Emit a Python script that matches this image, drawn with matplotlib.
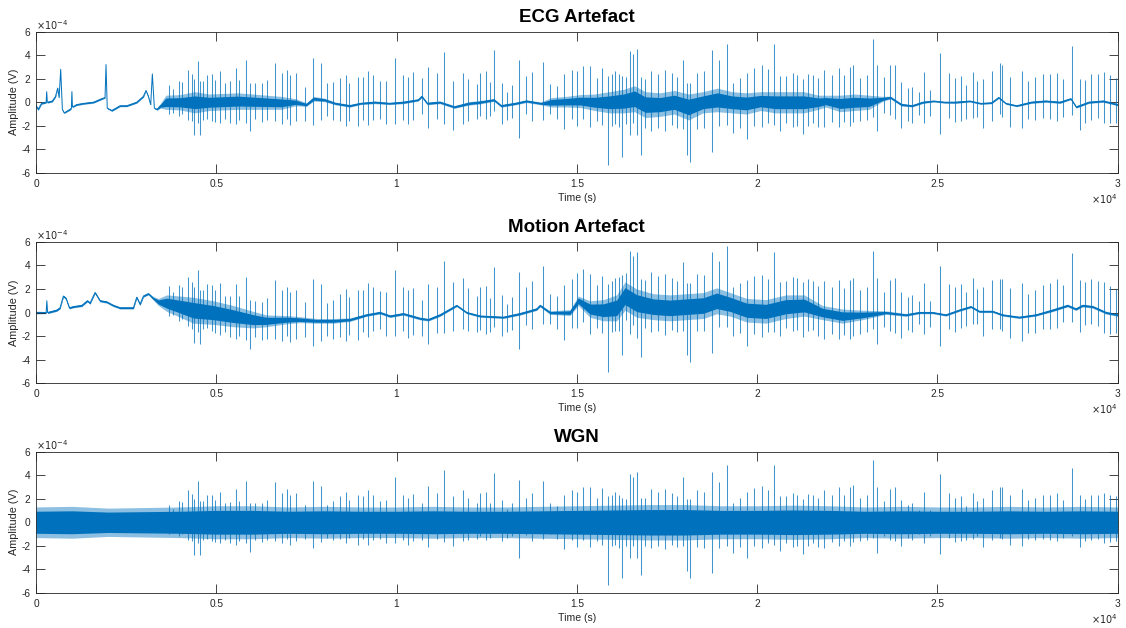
import numpy as np
import matplotlib.pyplot as plt

# values in units of 1e-4 V, time in samples
LINE = '#0072BD'
AXC = '#262626'

# shared EEG spikes (sample, peak above trend, trough below trend)
spike_t = [3697, 3808, 3975, 4040, 4206, 4317, 4390, 4502, 4548, 4640, 4733, 4872, 4964, 5102,
           5241, 5380, 5546, 5638, 5823, 5934, 6073, 6258, 6397, 6627, 6813, 6951, 7043, 7210,
           7459, 7672, 7903, 8060, 8245, 8430, 8596, 8680, 8938, 9077, 9216, 9354, 9539, 9697,
           9955, 10186, 10325, 10463, 10695, 10879, 11111, 11323, 11572, 11831, 11988,
           12220, 12312, 12469, 12589, 12700, 12931, 13050, 13190, 13393, 13602, 13743, 14050,
           14250, 14450, 14641, 14853, 14993, 15177, 15362, 15547, 15704, 15852, 15963, 16055,
           16166, 16259, 16360, 16472, 16564, 16657, 16767, 16880, 17044, 17238, 17442, 17626,
           17790, 17953, 18045, 18138, 18322, 18525, 18738, 18941, 19154, 19330, 19524, 19727,
           19912, 20144, 20292, 20476, 20633, 20800,
           20983, 21094, 21279, 21417, 21556, 21700, 21852, 22090, 22275, 22420, 22572, 22664,
           22850, 23048, 23216, 23338, 23530, 23681, 23819, 24000, 24190, 24300, 24480, 24624,
           24800, 25068, 25327, 25484, 25660, 25800, 25974, 26100, 26270, 26501, 26732, 26800,
           27010, 27333, 27520, 27704, 27935, 28120, 28305, 28470, 28736, 28949, 29090, 29272,
           29457, 29630, 29800, 29949]
spike_hi = [1.5, 1.1, 1.8, 1.7, 2.7, 2.4, 2.0, 3.5, 1.8, 1.8, 2.35, 2.35, 1.9, 2.6,
            1.6, 1.7, 2.8, 1.8, 3.5, 1.6, 1.6, 1.6, 1.9, 3.4, 2.5, 2.8, 2.35, 2.5,
            1.5, 3.5, 3.1, 1.5, 1.8, 2.2, 2.6, 1.9, 2.3, 2.2, 2.7, 2.3, 1.8, 1.9,
            3.85, 2.3, 2.1, 2.4, 1.6, 3.05, 2.5, 4.4, 2.2, 2.7, 2.1,
            1.6, 2.5, 2.6, 1.6, 4.2, 1.9, 1.1, 1.6, 3.6, 2.1, 2.5, 3.5,
            1.6, 1.4, 2.35, 2.7, 2.6, 3.0, 3.0, 2.1, 2.9, 2.2, 2.35, 2.6,
            2.35, 2.1, 2.0, 4.1, 3.8, 4.3, 2.1, 2.1, 2.85, 2.6, 2.85, 2.5,
            2.2, 3.8, 2.0, 2.0, 2.7, 2.6, 4.3, 3.4, 4.9, 1.6, 2.1, 2.6,
            2.9, 3.1, 2.75, 4.9, 2.2, 2.2,
            2.5, 2.35, 2.0, 2.4, 2.35, 2.1, 2.7, 2.35, 3.0, 2.35, 3.0, 3.2,
            2.1, 2.35, 5.3, 3.0, 1.8, 2.8, 3.0, 1.9, 1.5, 1.6, 1.0, 2.55,
            1.0, 4.1, 2.5, 2.1, 2.2, 1.4, 2.5, 1.8, 2.1, 2.7, 3.0, 3.0,
            2.35, 2.85, 1.9, 2.1, 2.35, 2.35, 2.5, 1.9, 4.6, 2.3, 2.0, 2.35,
            2.35, 2.5, 2.35, 2.2]
spike_lo = [-1.0, -0.9, -1.2, -1.0, -1.5, -1.6, -2.75, -1.8, -2.8, -1.5, -1.4, -1.6, -1.7, -1.8,
            -1.5, -1.8, -1.9, -1.6, -1.8, -2.5, -1.5, -1.7, -1.5, -1.6, -1.8, -1.4, -1.9, -1.6,
            -1.4, -2.2, -1.7, -1.3, -1.5, -1.4, -1.8, -1.3, -1.9, -1.4, -1.9, -1.5, -1.4, -1.8,
            -1.8, -1.5, -1.9, -1.6, -1.5, -2.1, -1.4, -1.7, -2.0, -1.6, -1.5,
            -1.4, -1.2, -1.5, -1.3, -0.9, -1.6, -1.3, -1.2, -3.0, -1.1, -1.6, -1.4,
            -1.0, -1.4, -2.3, -1.5, -2.1, -1.5, -2.1, -1.6, -1.9, -5.3, -2.0, -1.9,
            -2.2, -4.7, -2.0, -3.0, -2.0, -3.0, -4.5, -2.0, -2.2, -2.0, -2.3, -1.9,
            -2.1, -2.0, -4.1, -4.7, -2.1, -2.2, -4.3, -2.2, -2.0, -2.6, -2.1, -3.0,
            -2.0, -2.2, -1.8, -1.9, -2.4, -1.8,
            -2.1, -2.0, -2.7, -2.0, -1.8, -2.1, -2.2, -1.7, -2.0, -1.6, -2.0, -1.7,
            -1.6, -1.5, -1.3, -2.6, -1.2, -1.5, -1.6, -2.0, -1.3, -1.5, -1.0, -1.8,
            -1.2, -2.7, -1.3, -1.7, -1.6, -1.5, -1.4, -1.2, -2.1, -1.5, -1.3, -1.4,
            -1.9, -2.0, -1.4, -1.5, -1.4, -1.5, -1.6, -1.3, -1.2, -2.1, -1.6, -1.5,
            -1.4, -1.8, -1.7, -1.6]

# ECG artefact panel: trend and noise half-width
ecg_t = [0, 60, 150, 280, 296, 312, 450, 540, 600, 640, 684, 730, 780, 943, 980, 995, 1010,
         1128, 1313, 1590, 1821, 1914, 1941, 1975, 2100, 2330, 2515, 2792, 2977, 3050, 3115,
         3180, 3226, 3282, 3356, 3450, 3600, 4000, 4400, 4800, 5200, 5600, 6000, 6400, 6800,
         7200, 7500, 7700, 8000, 8300, 8700, 9000, 9400, 9800, 10200, 10600, 10700, 10850,
         11200, 11600, 12000, 12300, 12700, 12900, 13300, 13600, 14000, 14300, 14700, 15100,
         15500, 15900, 16300, 16600, 16900, 17300, 17700, 18100, 18500, 18900, 19300, 19700,
         20100, 20500, 20900, 21300, 21700, 21900, 22300, 22700, 23100, 23500, 23700, 24000,
         24300, 24600, 24900, 25200, 25500, 25900, 26200, 26500, 26700, 26900, 27200, 27600,
         28000, 28400, 28700, 28850, 29200, 29600, 30000]
ecg_v = [-0.3, -0.6, -0.1, 0.0, 0.9, 0.0, 0.1, 0.5, 1.2, 0.4, 2.8, -0.6, -0.9, -0.6, -0.5, 0.9, -0.4,
         -0.2, -0.1, 0.0, 0.3, 0.4, 3.2, -0.5, -0.7, -0.3, -0.3, 0.0, 0.5, 1.0, 0.5,
         -0.2, 2.4, -0.5, -0.6, -0.3, 0.0, 0.0, 0.0, 0.0, 0.05, 0.1, 0.05, 0.0, -0.05,
         0.0, -0.2, 0.3, 0.2, -0.1, -0.3, -0.1, 0.0, -0.1, 0.0, 0.2, 0.5, -0.1,
         0.0, -0.4, -0.1, 0.0, 0.2, -0.3, -0.1, 0.1, -0.1, 0.0, 0.05, 0.1,
         0.0, 0.0, 0.1, 0.3, -0.2, -0.2, 0.0, -0.4, 0.0, 0.2, 0.0, -0.1,
         0.1, 0.0, 0.0, 0.0, 0.0, 0.1, -0.1, 0.0, 0.0, 0.3, 0.4, -0.2,
         -0.3, 0.0, 0.1, 0.0, 0.0, 0.1, -0.1, -0.05, 0.4, -0.1, -0.3, 0.0,
         0.1, 0.0, 0.3, -0.4, 0.0, 0.1, -0.2]
ecg_hw = [0.1, 0.1, 0.08, 0.08, 0.0, 0.08, 0.08, 0.08, 0.05, 0.05, 0.0, 0.05, 0.05, 0.08, 0.05, 0.0, 0.05,
          0.08, 0.08, 0.08, 0.08, 0.05, 0.0, 0.05, 0.08, 0.08, 0.08, 0.08, 0.08, 0.05, 0.05,
          0.05, 0.0, 0.05, 0.08, 0.2, 0.6, 0.65, 0.9, 0.7, 0.7, 0.7, 0.65, 0.6, 0.55,
          0.3, 0.15, 0.2, 0.15, 0.12, 0.12, 0.1, 0.12, 0.1, 0.12, 0.1, 0.1, 0.12,
          0.12, 0.12, 0.15, 0.15, 0.12, 0.12, 0.12, 0.12, 0.12, 0.4, 0.45, 0.55,
          0.7, 0.9, 1.0, 1.1, 1.1, 1.0, 1.0, 1.1, 0.9, 1.0, 0.9, 0.9,
          0.8, 0.9, 0.9, 0.9, 0.6, 0.5, 0.7, 0.7, 0.6, 0.2, 0.12, 0.12,
          0.1, 0.1, 0.08, 0.08, 0.1, 0.08, 0.08, 0.08, 0.08, 0.08, 0.08, 0.1,
          0.1, 0.1, 0.08, 0.1, 0.1, 0.1, 0.1]

# motion artefact panel
mot_t = [0, 203, 280, 300, 320, 573, 665, 758, 832, 924, 1036, 1267, 1424, 1498, 1636, 1775,
         1960, 2145, 2330, 2515, 2700, 2792, 2885, 2977, 3115, 3254, 3393, 3624, 4000, 4360,
         4915, 5470, 6025, 6397, 6952, 7320, 7783, 8245, 8707, 9170, 9540, 9817, 10187, 10650,
         10881, 11205, 11667, 11944, 12314, 12961, 13423, 13885, 13978, 14255, 14810, 15041,
         15365, 15735, 16104, 16336, 16660, 17122, 17584, 18047, 18509, 18879, 19249, 19711,
         20243, 20798, 21307, 21815, 22369, 22924, 23571, 24126, 24496, 24866, 25236, 25605,
         25929, 26160, 26530, 26807, 27269, 27732, 28194, 28610, 28841, 29026, 29303, 29673, 30000]
mot_v = [0.0, 0.0, 0.0, 1.0, 0.0, 0.2, 0.4, 1.4, 1.2, 0.4, 0.5, 0.6, 1.0, 0.8, 1.7, 1.0,
         0.9, 0.6, 0.4, 0.4, 0.4, 1.3, 0.7, 1.4, 1.6, 1.2, 0.9, 0.8, 0.5, 0.2,
         0.0, -0.3, -0.6, -0.7, -0.6, -0.6, -0.7, -0.7, -0.6, -0.2, 0.0, -0.3, -0.1, -0.5,
         -0.6, -0.2, 0.6, 0.0, -0.3, -0.4, -0.1, 0.3, 0.6, 0.0, 0.0, 1.0,
         0.3, 0.2, 0.4, 1.4, 0.8, 0.5, 0.4, 0.5, 0.6, 1.0, 0.7, 0.2,
         0.1, 0.5, 0.6, 0.0, -0.3, -0.2, 0.0, -0.2, 0.0, 0.0, -0.2, 0.2,
         0.5, 0.1, 0.1, -0.2, -0.4, -0.2, 0.2, 0.6, 0.3, 0.6, 0.5, 0.0, -0.2]
mot_hw = [0.12, 0.1, 0.1, 0.0, 0.1, 0.1, 0.1, 0.1, 0.1, 0.1, 0.1, 0.1, 0.1, 0.1, 0.1, 0.1,
          0.1, 0.1, 0.1, 0.1, 0.1, 0.1, 0.1, 0.1, 0.1, 0.15, 0.3, 0.7, 0.9, 1.1,
          1.0, 0.9, 0.7, 0.5, 0.35, 0.25, 0.2, 0.2, 0.15, 0.12, 0.12, 0.12, 0.12, 0.12,
          0.12, 0.12, 0.1, 0.1, 0.1, 0.1, 0.12, 0.12, 0.12, 0.15, 0.25, 0.4,
          0.7, 0.9, 1.1, 1.2, 1.2, 1.1, 1.1, 1.1, 1.1, 1.1, 1.0, 1.0,
          1.0, 1.0, 0.9, 0.6, 0.6, 0.4, 0.15, 0.12, 0.1, 0.1, 0.1, 0.1,
          0.1, 0.1, 0.1, 0.1, 0.1, 0.1, 0.12, 0.12, 0.12, 0.12, 0.12, 0.12, 0.12]

# white gaussian noise panel
wgn_t = [0, 1000, 2000, 3000, 4000, 5000, 6000, 7000, 8000, 9000, 10000, 11000, 12000, 13000,
         14000, 15000, 16000, 17000, 18000, 19000, 20000, 21000, 22000, 23000, 24000, 25000,
         26000, 27000, 28000, 29000, 30000]
wgn_v = [0.0] * 31
wgn_hw = [1.3, 1.35, 1.2, 1.25, 1.3, 1.4, 1.4, 1.3, 1.35, 1.3, 1.3, 1.35, 1.3, 1.3,
          1.35, 1.4, 1.45, 1.5, 1.5, 1.4, 1.4, 1.45, 1.4, 1.3, 1.35, 1.3,
          1.3, 1.35, 1.3, 1.35, 1.3]

titles = ['ECG Artefact', 'Motion Artefact', 'WGN']
panels = [(ecg_t, ecg_v, ecg_hw), (mot_t, mot_v, mot_hw), (wgn_t, wgn_v, wgn_hw)]
core = [0.6, 0.6, 0.72]
xtick_labels = ['0', '0.5', '1', '1.5', '2', '2.5', '3']
ytick_labels = ['-6', '-4', '-2', '0', '2', '4', '6']

plt.rcParams['font.family'] = ['Liberation Sans', 'DejaVu Sans']
fig = plt.figure(figsize=(11.26, 6.28), dpi=100)
bottoms = [0.7245, 0.3896, 0.0557]
height = 0.2253

for i in range(3):
    ax = fig.add_axes([0.032, bottoms[i], 0.9606, height])
    t, v, hw = [np.array(a, dtype=float) for a in panels[i]]
    sc = 1e-4
    ax.fill_between(t, (v - hw) * sc, (v + hw) * sc, color=LINE, alpha=0.45, lw=0)
    ax.fill_between(t, (v - core[i] * hw) * sc, (v + core[i] * hw) * sc, color=LINE, lw=0)
    ax.plot(t, v * sc, color=LINE, lw=0.7)
    st = np.array(spike_t, dtype=float)
    base = np.interp(st, t, v)
    ax.vlines(st, (base + np.array(spike_lo)) * sc, (base + np.array(spike_hi)) * sc,
              color=LINE, lw=0.75, alpha=0.75)

    ax.set_xlim(0, 30000)
    ax.set_ylim(-6e-4, 6e-4)
    ax.set_xticks(np.arange(0, 30001, 5000))
    ax.set_xticklabels(xtick_labels)
    ax.set_yticks(np.arange(-6, 7, 2) * 1e-4)
    ax.set_yticklabels(ytick_labels)
    ax.tick_params(direction='in', length=6.5, width=0.6, color=AXC, labelcolor=AXC,
                   labelsize=7.3, top=True, right=True, pad=4)
    for s in ax.spines.values():
        s.set_color(AXC)
        s.set_linewidth(0.6)
    ax.set_title(titles[i], fontsize=13.5, fontweight='bold', pad=7)
    ax.set_xlabel('Time (s)', fontsize=7.6, color=AXC, labelpad=3)
    ax.set_ylabel('Amplitude (V)', fontsize=7.8, color=AXC, labelpad=2)
    ax.text(0.0, 1.045, r'$\times10^{-4}$', transform=ax.transAxes, fontsize=7,
            color=AXC, ha='left', va='center')
    ax.text(1.0, -0.185, r'$\times10^{4}$', transform=ax.transAxes, fontsize=7,
            color=AXC, ha='right', va='center')

fig.savefig('out.png', dpi=100)
